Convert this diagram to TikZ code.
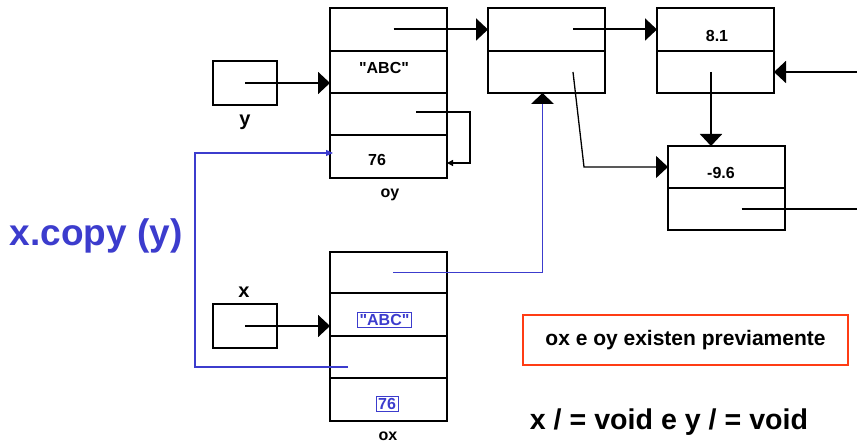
\documentclass[tikz,border=0pt]{standalone}
\usepackage{fontspec}
\setmainfont{Liberation Sans}[Ligatures=TeXOff]
\usetikzlibrary{arrows.meta}
\definecolor{myblue}{RGB}{60,60,205}
\definecolor{myred}{RGB}{255,60,20}
\tikzset{
  cell/.style={draw, line width=2pt, minimum width=117pt, minimum height=42pt, inner sep=0pt, outer sep=0pt},
  ptr/.style={draw, line width=2pt, minimum width=64pt, minimum height=44pt, inner sep=0pt, outer sep=0pt},
  lbl/.style={font=\bfseries\fontsize{16}{18}\selectfont, inner sep=0pt},
  bigarrow/.style={line width=2pt, -{Triangle[length=12pt,width=22pt]}},
  thinline/.style={line width=1.3pt},
  bluearrow/.style={line width=1.3pt, draw=myblue},
}
\begin{document}
\begin{tikzpicture}[x=1pt,y=-1pt]
\useasboundingbox (0,0) rectangle (857,443);
% oy object
\node[cell, minimum height=43pt] (oy1) at (388.5,29.5) {};
\node[cell] (oy2) at (388.5,72) {};
\node[cell] (oy3) at (388.5,114) {};
\node[cell, minimum height=43pt] (oy4) at (388.5,156.5) {};
\node[lbl] (tabc) at (384,68) {"ABC"};
\node[lbl] (t76) at (377,160) {76};
\node[lbl] (loy) at (390,195) {oy};
% y variable
\node[ptr] (yb) at (245,83) {};
\node[lbl, font=\bfseries\fontsize{20}{22}\selectfont] (ly) at (245,122) {y};
% node 2
\node[cell, minimum height=43pt] (n2a) at (546.5,29.5) {};
\node[cell] (n2b) at (546.5,72) {};
% node 3
\node[cell, minimum height=43pt] (n3a) at (715.5,29.5) {};
\node[cell] (n3b) at (715.5,72) {};
\node[lbl] (t81) at (717,36) {8.1};
% node 4
\node[cell] (n4a) at (726.5,167) {};
\node[cell] (n4b) at (726.5,209) {};
\node[lbl] (t96) at (721,173) {-9.6};
% ox object
\node[cell, minimum height=41pt] (ox1) at (388.5,272.5) {};
\node[cell, minimum height=43pt] (ox2) at (388.5,314.5) {};
\node[cell] (ox3) at (388.5,357) {};
\node[cell, minimum height=43pt] (ox4) at (388.5,399.5) {};
\node[lbl, text=myblue, draw=myblue, line width=0.8pt, inner sep=2pt] (xabc) at (384.5,320) {"ABC"};
\node[lbl, text=myblue, draw=myblue, line width=0.8pt, inner sep=2pt] (x76) at (387,404) {76};
\node[lbl] (lox) at (388,436) {ox};
% x variable
\node[ptr] (xb) at (245,326) {};
\node[lbl, font=\bfseries\fontsize{20}{22}\selectfont] (lx) at (244,292) {x};
% free ends
\coordinate (r1) at (857,72);
\coordinate (r2) at (857,209);
% texts
\node[font=\bfseries\fontsize{37}{40}\selectfont, text=myblue, inner sep=0pt] (copy) at (96,236) {x.copy (y)};
\node[draw=myred, line width=2.6pt, fill=white, minimum width=325pt, minimum height=50pt, inner sep=0pt,
      font=\bfseries\fontsize{21}{23}\selectfont] (note) at (685.5,340) {ox e oy existen previamente};
\node[font=\bfseries\fontsize{28.6}{30}\selectfont, inner sep=0pt] (cond) at (669,422) {x / = void e y / = void};
% connectors
\draw[bigarrow] (yb.center) -- (yb.center -| oy2.west);
\draw[bigarrow] ([xshift=5pt]oy1.center) -- (n2a.west);
\draw[bigarrow] ([xshift=26.5pt]n2a.center) -- (n3a.west);
\draw[bigarrow] (r1) -- (n3b.east);
\draw[bigarrow] ([xshift=-4.5pt]n3b.center) -- ([xshift=-4.5pt]n3b.center |- n4a.north);
\draw[bigarrow, line width=1.3pt] ([xshift=26.5pt]n2b.center) -- (584,167) -- (n4a.west);
\draw[thinline] ([xshift=15pt]n4b.center) -- (r2);
\draw[thinline, -{Triangle[length=6pt,width=6pt]}] ([xshift=27.5pt,yshift=2pt]oy3.center) -- (470,112) |- ([yshift=-6.5pt]oy4.east);
\draw[bigarrow] (xb.center) -- (xb.center -| ox2.west);
\draw[bluearrow] ([xshift=4.5pt]ox1.center) -| ([xshift=-4pt,yshift=-11pt]n2b.south);
\fill ([xshift=-4pt]n2b.south) -- ++(11.5,11) -- ++(-23,0) -- cycle;
\draw[bluearrow, -{Triangle[length=7pt,width=6pt]}] ([xshift=-40.5pt,yshift=-10pt]ox3.center) -- (195,367) |- ([xshift=3pt,yshift=3.5pt]oy4.west);
\end{tikzpicture}
\end{document}
